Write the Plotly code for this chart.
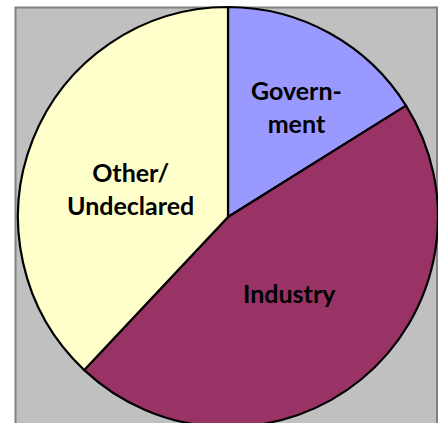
import plotly.graph_objects as go

labels = ["Government", "Industry", "Other/Undeclared"]
display_text = ["Govern-<br>ment", "Industry", "Other/<br>Undeclared"]
values = [16.1, 45.9, 38.0]
colors = ["#9999FF", "#993366", "#FFFFCC"]
# label centres in pixels (x from left, y from top)
label_px = [(296, 107), (289, 293), (130, 188)]

W, H = 438, 431
cx, cy, r = 228, 217, 210

fig = go.Figure(go.Pie(
    labels=labels,
    values=values,
    textinfo="none",
    sort=False,
    direction="clockwise",
    rotation=0,
    marker=dict(colors=colors, line=dict(color="#000000", width=2.2)),
    hoverinfo="label+percent",
    domain=dict(x=[(cx - r) / W, (cx + r) / W],
                y=[(H - (cy + r)) / H, (H - (cy - r)) / H]),
    showlegend=False,
))

for txt, (px, py) in zip(display_text, label_px):
    fig.add_annotation(text=txt, x=px / W, y=(H - py) / H, xref="paper", yref="paper",
                       showarrow=False, xanchor="center", yanchor="middle", align="center",
                       font=dict(family="Lato", size=25, color="#000000", weight="bold"))

fig.add_shape(type="rect", xref="paper", yref="paper",
              x0=15.5 / W, x1=437 / W, y0=-0.05, y1=(H - 7.5) / H,
              fillcolor="#C0C0C0", line=dict(color="#808080", width=2),
              layer="below")

fig.update_layout(
    width=W, height=H,
    margin=dict(l=0, r=0, t=0, b=0),
    paper_bgcolor="#FFFFFF",
    plot_bgcolor="#FFFFFF",
)

fig.write_html("out.html", config={"displayModeBar": False},
               post_script="document.body.style.margin='0';document.body.style.overflow='hidden';document.documentElement.style.overflow='hidden';")
